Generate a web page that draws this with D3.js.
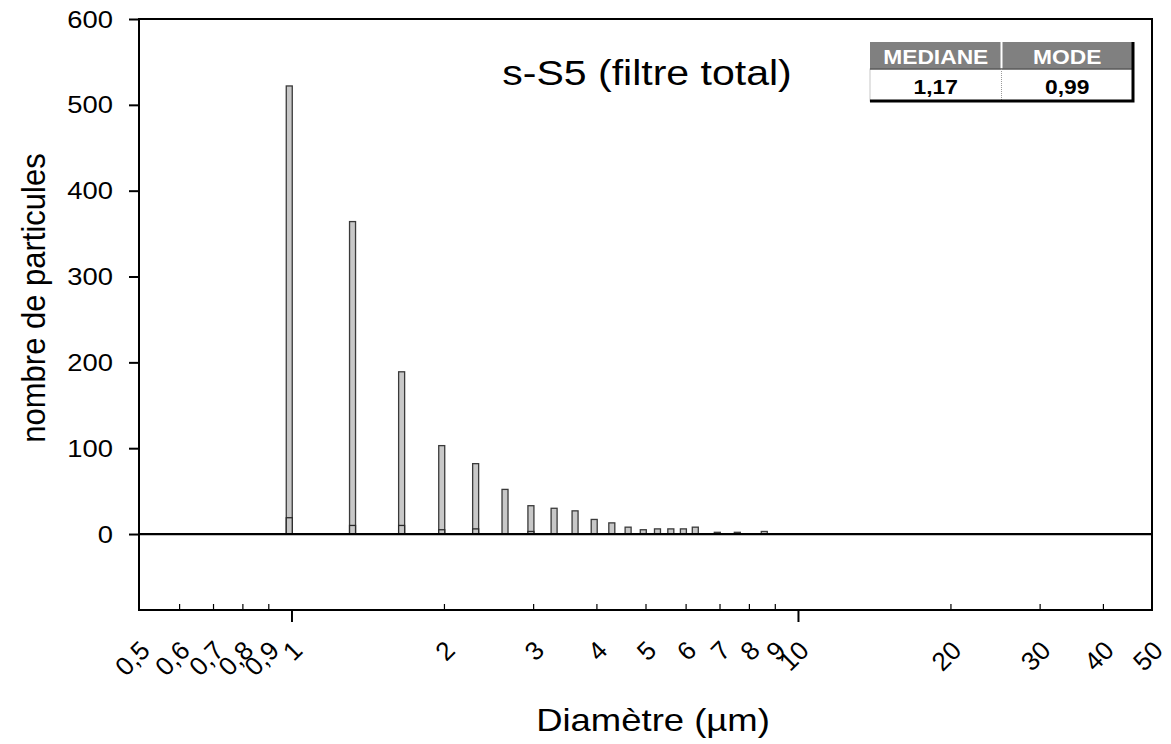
<!DOCTYPE html>
<html>
<head>
<meta charset="utf-8">
<script src="https://cdn.jsdelivr.net/npm/d3@7"></script>
<style>
  body { margin: 0; background: #fff; }
  text { font-family: "Liberation Sans", Arial, sans-serif; }
</style>
</head>
<body>
<div id="chart"></div>
<script>
// diameters (µm) of the classes and particle counts
const diameters = [0.99, 1.32, 1.65, 1.98, 2.31, 2.64, 2.97, 3.30, 3.63, 3.96,
                   4.29, 4.62, 4.95, 5.28, 5.61, 5.94, 6.27, 6.93, 7.59, 8.58];
const countTotal = [522, 364, 189, 103, 82, 52, 33, 30, 27, 17,
                    13, 8, 5, 6, 6, 6, 8, 2, 2, 3];
const countInner = [19, 10, 10, 5, 6, 0, 3, 0, 0, 0,
                    0, 0, 0, 0, 0, 0, 0, 0, 0, 0];

const yTicks = [0, 100, 200, 300, 400, 500, 600];
const xLabelTicks = [0.5, 0.6, 0.7, 0.8, 0.9, 1, 2, 3, 4, 5, 6, 7, 8, 9, 10, 20, 30, 40, 50];
const xMajorTicks = [1, 10];
const xMinorTicks = [0.6, 0.7, 0.8, 0.9, 2, 3, 4, 5, 6, 7, 8, 9, 20, 30, 40];

const tableHeaders = ['MEDIANE', 'MODE'];
const tableValues = ['1,17', '0,99'];

const chartTitle = 's-S5 (filtre total)';
const xTitle = 'Diamètre (µm)';
const yTitle = 'nombre de particules';

//----------------------------------------
// SVG setup
let width = 1171,
    height = 744;
const stretch = 1.14; // text in the original is a bit wide

let svg = d3.select('#chart').append('svg')
    .attr('width', width)
    .attr('height', height);

let x = d3.scaleLog()
    .domain([0.5, 50])
    .range([139, 1152]);

let y = d3.scaleLinear()
    .domain([-88.5, 600])
    .range([610, 19]);

let fmt = d => String(d).replace('.', ',');

// horizontal text helper (stretched a little in x)
function addText(g, str, tx, ty, size, opts) {
    opts = opts || {};
    return g.append('text')
        .attr('transform', 'translate(' + tx + ',' + ty + ') scale(' + stretch + ',1)')
        .attr('text-anchor', opts.anchor || 'middle')
        .style('font-size', size + 'px')
        .style('font-weight', opts.weight || 'normal')
        .style('fill', opts.fill || '#000')
        .text(str);
}

//----------------------------------------
// Bars
let bars = svg.append('g');
let barW = 6;

bars.selectAll('rect.total')
    .data(diameters)
    .enter()
    .append('rect')
    .attr('class', 'total')
    .attr('x', d => x(d) - barW / 2)
    .attr('width', barW)
    .attr('y', (d, i) => y(countTotal[i]))
    .attr('height', (d, i) => y(0) - y(countTotal[i]))
    .style('fill', '#c8c8c8')
    .style('stroke', '#3a3a3a')
    .style('stroke-width', 1.3);

bars.selectAll('rect.inner')
    .data(diameters.filter((d, i) => countInner[i] > 0))
    .enter()
    .append('rect')
    .attr('class', 'inner')
    .attr('x', d => x(d) - barW / 2)
    .attr('width', barW)
    .attr('y', d => y(countInner[diameters.indexOf(d)]))
    .attr('height', d => y(0) - y(countInner[diameters.indexOf(d)]))
    .style('fill', '#c8c8c8')
    .style('stroke', '#2a2a2a')
    .style('stroke-width', 1.3);

//----------------------------------------
// Frame and zero line
svg.append('rect')
    .attr('x', x(0.5))
    .attr('y', y(600))
    .attr('width', x(50) - x(0.5))
    .attr('height', y(-88.5) - y(600))
    .style('fill', 'none')
    .style('stroke', '#000')
    .style('stroke-width', 2);

svg.append('line')
    .attr('x1', x(0.5))
    .attr('x2', x(50))
    .attr('y1', y(0))
    .attr('y2', y(0))
    .style('stroke', '#000')
    .style('stroke-width', 2.2);

//----------------------------------------
// Y axis
let yAxis = svg.append('g')
    .attr('transform', 'translate(' + x(0.5) + ',0)')
    .call(d3.axisLeft(y).tickValues(yTicks).tickSize(10).tickPadding(0).tickFormat(d => d));

yAxis.select('.domain').remove();
yAxis.selectAll('line').style('stroke', '#000').style('stroke-width', 2);
yAxis.selectAll('text')
    .attr('x', null)
    .attr('dy', '0.34em')
    .attr('transform', 'translate(-26,0) scale(' + stretch + ',1)')
    .attr('fill', '#000')
    .style('font-size', '24px')
    .style('font-family', '"Liberation Sans", Arial, sans-serif');

//----------------------------------------
// X axis: minor ticks inside, major ticks outside, rotated labels
let xMinor = svg.append('g')
    .attr('transform', 'translate(0,' + y(-88.5) + ')')
    .call(d3.axisBottom(x).tickValues(xMinorTicks).tickSize(-6).tickFormat(''));
xMinor.select('.domain').remove();
xMinor.selectAll('line').style('stroke', '#000').style('stroke-width', 1.2);

let xMajor = svg.append('g')
    .attr('transform', 'translate(0,' + y(-88.5) + ')')
    .call(d3.axisBottom(x).tickValues(xMajorTicks).tickSize(12).tickFormat(''));
xMajor.select('.domain').remove();
xMajor.selectAll('line').style('stroke', '#000').style('stroke-width', 2);

let xLabels = svg.append('g')
    .attr('transform', 'translate(0,' + y(-88.5) + ')')
    .call(d3.axisBottom(x).tickValues(xLabelTicks).tickSize(0).tickFormat(fmt));
xLabels.select('.domain').remove();
xLabels.selectAll('line').remove();
xLabels.selectAll('text')
    .attr('y', 0)
    .attr('dy', 0)
    .attr('text-anchor', 'end')
    .attr('transform', 'translate(12,42) rotate(-45)')
    .attr('fill', '#000')
    .style('font-size', '26px')
    .style('font-family', '"Liberation Sans", Arial, sans-serif');

//----------------------------------------
// Titles
addText(svg, chartTitle, 647, 85, 36);
addText(svg, xTitle, 653, 731, 32);

svg.append('text')
    .attr('transform', 'translate(45,298) rotate(-90) scale(1,1.08)')
    .attr('text-anchor', 'middle')
    .style('font-size', '31px')
    .style('fill', '#000')
    .text(yTitle);

//----------------------------------------
// Table MEDIANE / MODE
let table = svg.append('g');
let tx0 = 870, tx1 = 1133, colW = (tx1 - tx0) / tableHeaders.length;
let ty0 = 42, tyMid = 69, ty1 = 101;

table.selectAll('rect.head')
    .data(tableHeaders)
    .enter()
    .append('rect')
    .attr('class', 'head')
    .attr('x', (d, i) => tx0 + i * colW + (i > 0 ? 1 : 0))
    .attr('y', ty0)
    .attr('width', (d, i) => colW - 1)
    .attr('height', tyMid - ty0)
    .style('fill', '#808080');

table.append('rect')
    .attr('x', tx0)
    .attr('y', tyMid)
    .attr('width', tx1 - tx0)
    .attr('height', ty1 - tyMid)
    .style('fill', '#fff')
    .style('stroke', '#c8c8c8')
    .style('stroke-width', 1);

table.append('line')
    .attr('x1', tx0).attr('x2', tx1)
    .attr('y1', tyMid).attr('y2', tyMid)
    .style('stroke', '#222').style('stroke-width', 1.2);

table.append('line')
    .attr('x1', tx0 + colW).attr('x2', tx0 + colW)
    .attr('y1', tyMid).attr('y2', ty1)
    .style('stroke', '#999').style('stroke-width', 1)
    .style('stroke-dasharray', '1,1');

// thick right and bottom edges
table.append('path')
    .attr('d', 'M' + tx1 + ',' + ty0 + 'V' + ty1 + 'H' + tx0)
    .style('fill', 'none')
    .style('stroke', '#000')
    .style('stroke-width', 3);

tableHeaders.forEach((h, i) => {
    addText(table, h, tx0 + colW * (i + 0.5), 64, 20, {weight: 'bold', fill: '#fff'});
});
tableValues.forEach((v, i) => {
    addText(table, v, tx0 + colW * (i + 0.5), 94, 20, {weight: 'bold'});
});
</script>
</body>
</html>
